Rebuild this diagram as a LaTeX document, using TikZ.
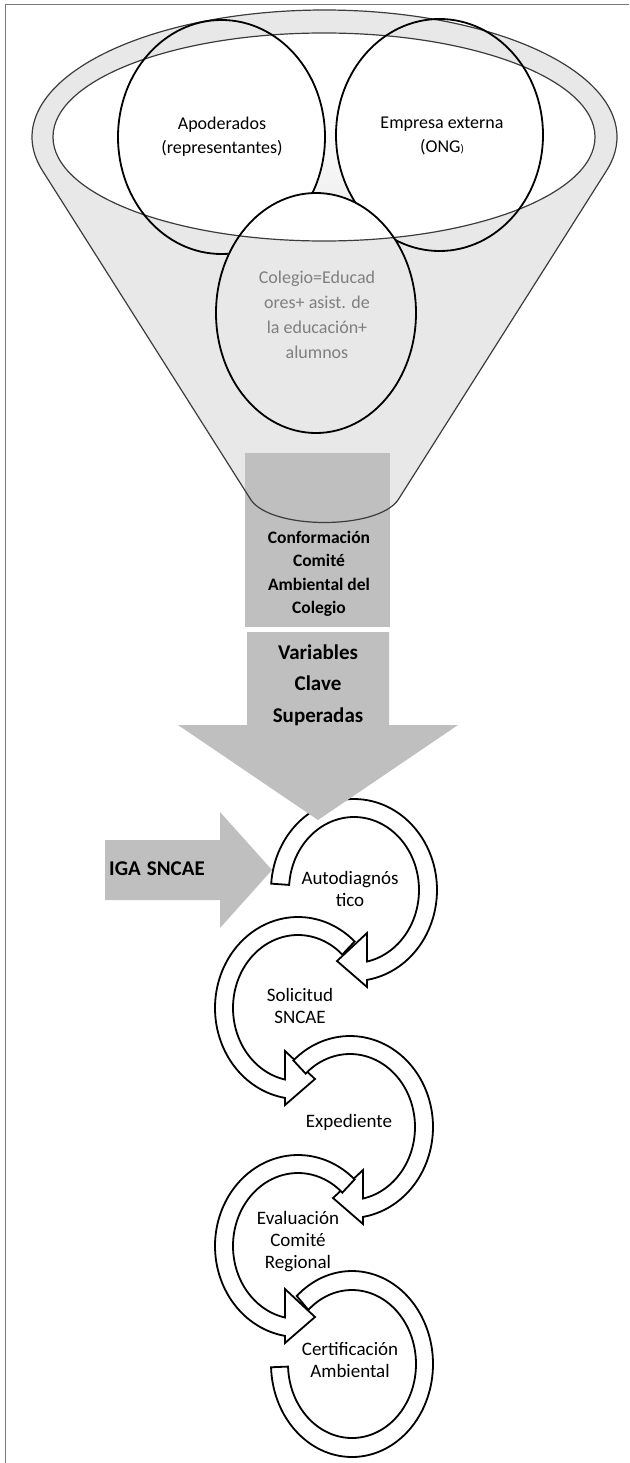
\documentclass[tikz,border=0pt]{standalone}
\usepackage{fontspec}
\setmainfont{Carlito}
\definecolor{funnelgray}{RGB}{232,232,232}
\definecolor{boxgray}{RGB}{191,191,191}
\definecolor{linegray}{RGB}{60,60,60}
\definecolor{framegray}{RGB}{120,120,120}
\definecolor{coltext}{RGB}{127,127,127}
% clockwise circular arrow: centre x, centre y, tail angle
\newcommand{\ArrowCW}[3]{%
  \draw[ring] plot[domain=#3:441,samples=90] ({#1+83*cos(\x)},{#2+91*sin(\x)})
    -- ({#1+13},{#2+97}) -- ({#1-17},{#2+71}) -- ({#1+13},{#2+43})
    -- plot[domain=438.5:#3,samples=90] ({#1+65*cos(\x)},{#2+73*sin(\x)}) -- cycle;}
% counter-clockwise circular arrow
\newcommand{\ArrowCCW}[3]{%
  \draw[ring] plot[domain=#3:-261,samples=90] ({#1+83*cos(\x)},{#2+91*sin(\x)})
    -- ({#1-13},{#2+97}) -- ({#1+17},{#2+71}) -- ({#1-13},{#2+43})
    -- plot[domain=-258.5:#3,samples=90] ({#1+65*cos(\x)},{#2+73*sin(\x)}) -- cycle;}
\begin{document}
\begin{tikzpicture}[x=1pt,y=-1pt,
  ring/.style={draw=black, line width=1.8pt, fill=white},
  funnelline/.style={draw=linegray, line width=1.2pt},
  venn/.style={draw=black, line width=1.8pt},
  ftext/.style={align=center, font=\fontsize{18}{24}\selectfont, text=black},
  btext/.style={align=center, font=\bfseries\fontsize{17.5}{23.5}\selectfont, text=black},
  vtext/.style={align=center, font=\bfseries\fontsize{21}{31.5}\selectfont, text=black},
  ctext/.style={align=center, font=\fontsize{19}{22}\selectfont, text=black}]
\useasboundingbox (0,0) rectangle (629,1463);
% frame
\draw[framegray, line width=1.5pt] (5.5,1463) -- (5.5,4.5) -- (629,4.5);
% funnel
\fill[funnelgray] plot[domain=164.63:375.37,samples=150] ({324.5+292.5*cos(\x)},{137+127*sin(\x)})
   -- (398,500) .. controls (377,530) and (272,530) .. (251,500) -- cycle;
\fill[boxgray] (245,453) rectangle (390,627);
\draw[funnelline] plot[domain=164.63:375.37,samples=150] ({324.5+292.5*cos(\x)},{137+127*sin(\x)})
   -- (398,500) .. controls (377,530) and (272,530) .. (251,500) -- cycle;
\fill[white] (324,137) ellipse [x radius=271, y radius=104];
\begin{scope}
  \clip (324,137) ellipse [x radius=271, y radius=104];
  \fill[top color=white, bottom color=funnelgray] (290,105) rectangle (370,250);
  \fill[white] (221.5,137) ellipse [x radius=103.5, y radius=117];
  \fill[white] (439.5,135) ellipse [x radius=103.5, y radius=116];
\end{scope}
\draw[funnelline] (324,137) ellipse [x radius=271, y radius=104];
\draw[venn] (221.5,137) ellipse [x radius=103.5, y radius=117];
\draw[venn] (439.5,135) ellipse [x radius=103.5, y radius=116];
\begin{scope}
  \clip (316,313) ellipse [x radius=100, y radius=120];
  \fill[funnelgray] (200,180) rectangle (430,450);
  \fill[white] (324,137) ellipse [x radius=271, y radius=104];
  \draw[funnelline] (324,137) ellipse [x radius=271, y radius=104];
\end{scope}
\draw[venn] (316,313) ellipse [x radius=100, y radius=120];
% circular arrows
\ArrowCW{354}{890}{184}
\ArrowCCW{298}{1008}{-47}
\ArrowCW{350}{1127}{227}
\ArrowCCW{298}{1246}{-47}
\draw[ring] plot[domain=227:538,samples=120] ({352+81*cos(\x)},{1364+93*sin(\x)})
   -- plot[domain=538:227,samples=120] ({352+64*cos(\x)},{1364+74*sin(\x)}) -- cycle;
% big arrows
\fill[boxgray] (247,632) -- (389,632) -- (389,725) -- (458,725) -- (318,820) -- (178,725) -- (247,725) -- cycle;
\fill[boxgray] (105,840) -- (220,840) -- (220,812) -- (272,870) -- (220,928) -- (220,900) -- (105,900) -- cycle;
% texts
\node[ftext] (apo) at (222,137) {Apoderados\\(representantes)};
\node[ftext] (emp) at (442,136) {Empresa externa\\(ONG{\fontsize{11}{11}\selectfont)}};
\node[ftext, text=coltext, font=\fontsize{18}{25}\selectfont] (col) at (317,315) {Colegio=Educad\\ores+ asist. de\\la educación+\\alumnos};
\node[btext] (conf) at (319,574) {Conformación\\Comité\\Ambiental del\\Colegio};
\node[vtext] (var) at (318,685) {Variables\\Clave\\Superadas};
\node[vtext] (iga) at (157,869) {IGA\hspace{6pt}SNCAE};
\node[ctext] (t1) at (350,889) {Autodiagnós\\tico};
\node[ctext] (t2) at (300,1006) {Solicitud\\SNCAE};
\node[ctext] (t3) at (349,1122) {Expediente};
\node[ctext] (t4) at (298,1242) {Evaluación\\Comité\\Regional};
\node[ctext] (t5) at (350,1360) {Certificación\\Ambiental};
\end{tikzpicture}
\end{document}
